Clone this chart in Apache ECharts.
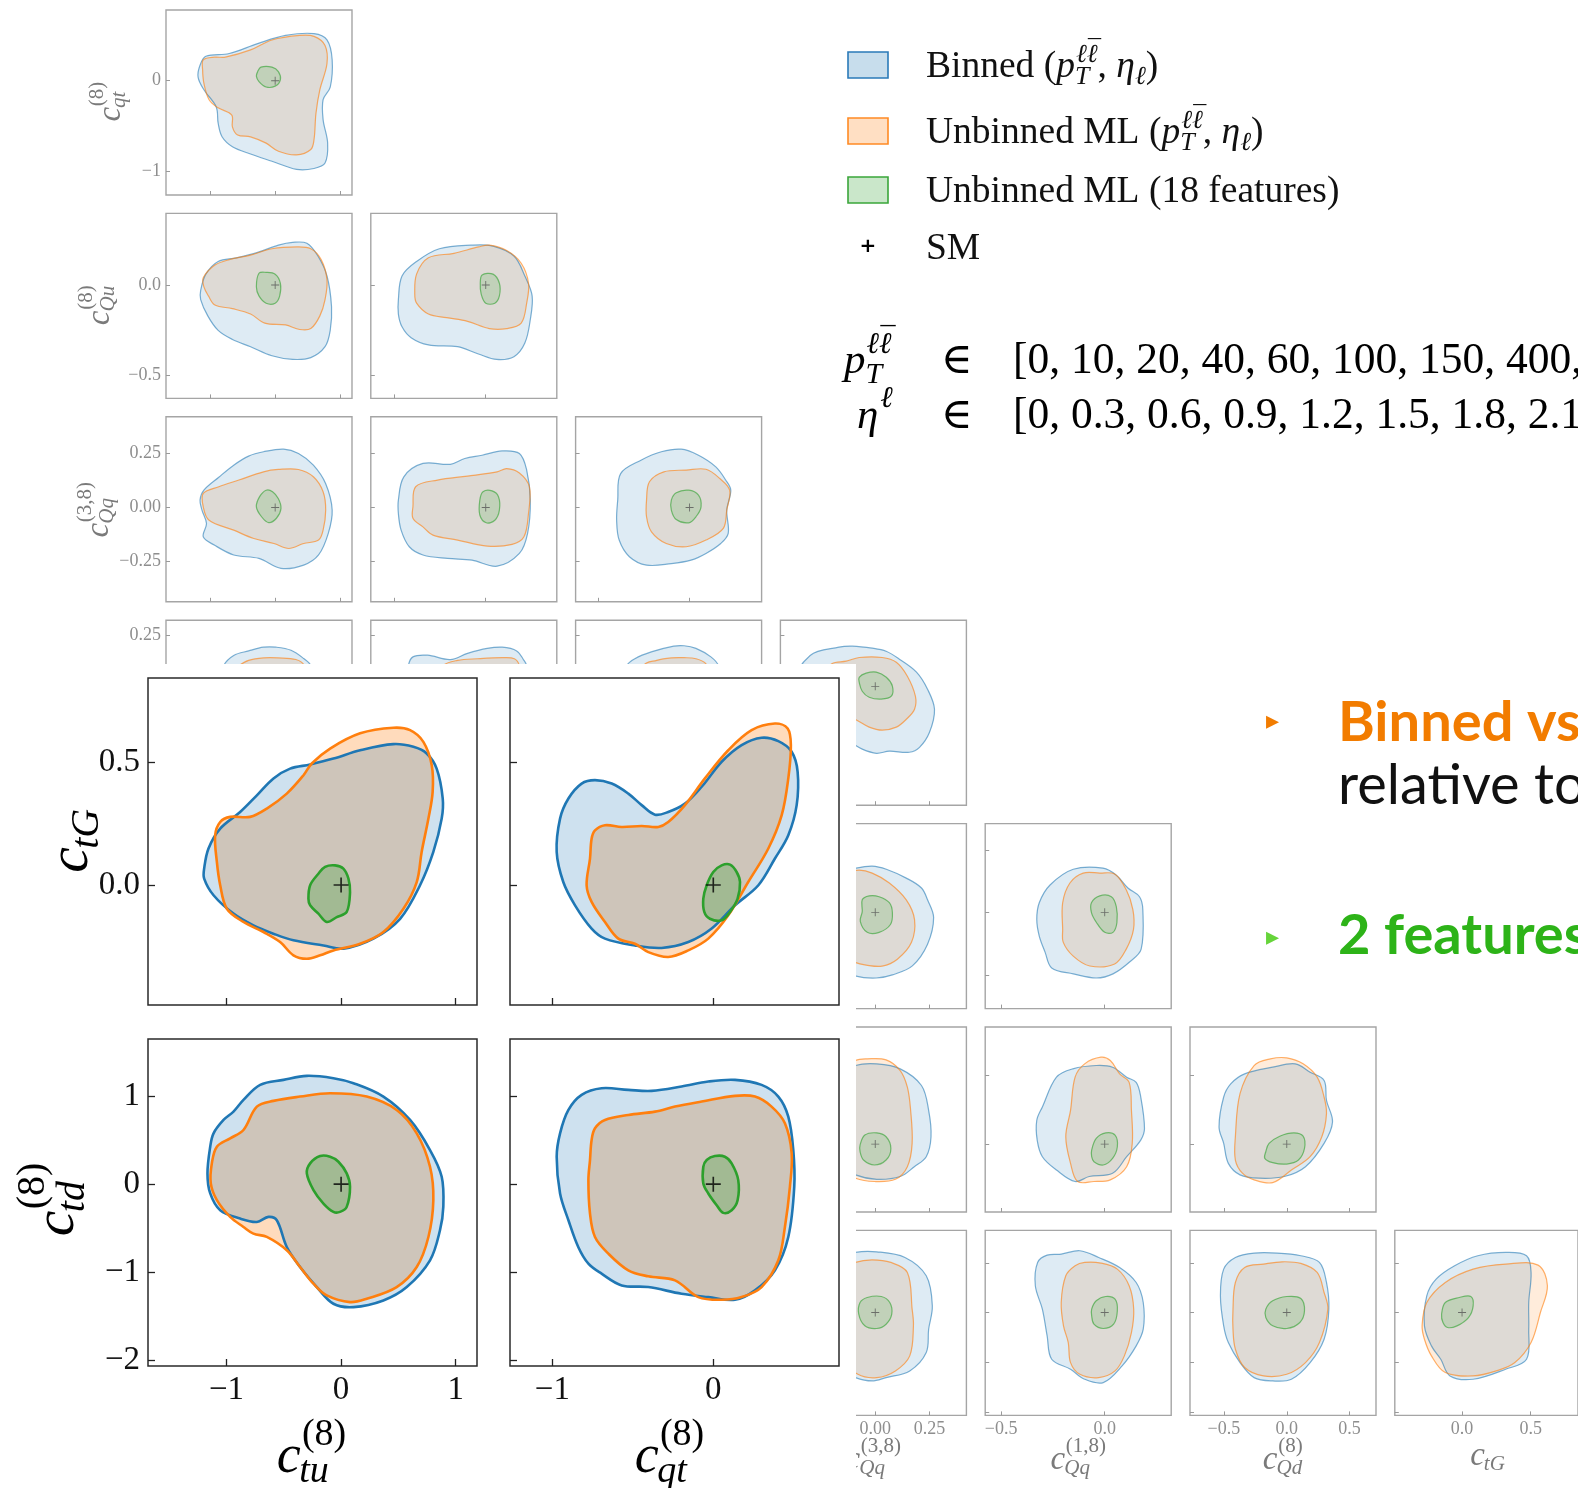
<!DOCTYPE html>
<html><head><meta charset="utf-8">
<script src="https://cdn.jsdelivr.net/npm/echarts@6/dist/echarts.min.js"></script>
<style>html,body{margin:0;padding:0;background:#fff}#c{width:1578px;height:1488px}</style>
</head><body><div id="c"></div>
<script>
// ---------------- tick values ----------------
const ticks_ctu = [-1, 0, 1];
const ticks_cqt = [-1, 0];
const ticks_cQu = [-0.5, 0];
const ticks_cQq38 = [-0.25, 0, 0.25];
const ticks_cQq18_x = [-0.5, 0];
const ticks_cQq18_y = [-0.5, -0.25, 0, 0.25];
const ticks_cQd = [-0.5, 0, 0.5];
const ticks_ctG = [0, 0.5];
const ticks_ctd = [-2, -1, 0, 1];
// ---------------- axis ranges ----------------
const range_ctu = [-1.685, 1.186];
const range_cqt = [-1.263, 0.781];
const range_cQu = [-0.625, 0.395];
const range_cQq38 = [-0.437, 0.42];
const range_cQq18 = [-0.577, 0.321];
const range_cQd = [-0.77, 0.71];
const range_ctG = [-0.49, 0.845];
const range_ctd = [-2.069, 1.651];
const sm_point = [0, 0];

// ---------------- contours: small corner panels ----------------
const r1c1_blue = [[-1.07,0.27],[-0.71,0.30],[-0.27,0.41],[0.16,0.50],[0.60,0.52],[0.80,0.45],[0.88,0.23],[0.85,-0.07],[0.74,-0.21],[0.74,-0.43],[0.81,-0.69],[0.77,-0.91],[0.60,-0.97],[0.33,-0.98],[-0.05,-0.89],[-0.38,-0.81],[-0.66,-0.73],[-0.82,-0.62],[-0.88,-0.47],[-0.91,-0.29],[-1.10,-0.10],[-1.19,0.04],[-1.16,0.17]];
const r1c1_orange = [[-1.11,0.23],[-0.93,0.26],[-0.77,0.26],[-0.38,0.34],[-0.05,0.45],[0.38,0.50],[0.60,0.49],[0.77,0.39],[0.80,0.19],[0.69,-0.10],[0.63,-0.36],[0.60,-0.65],[0.55,-0.76],[0.33,-0.82],[0.05,-0.78],[-0.14,-0.69],[-0.38,-0.62],[-0.58,-0.60],[-0.66,-0.51],[-0.67,-0.38],[-0.88,-0.30],[-1.02,-0.21],[-1.10,-0.03],[-1.12,0.12]];
const r1c1_green = [[-0.27,0.10],[-0.22,0.15],[-0.05,0.15],[0.05,0.10],[0.08,0.01],[0,-0.06],[-0.14,-0.07],[-0.25,-0.01],[-0.29,0.05]];

const r2c1_blue = [[-1.15,-0.03],[-1.07,0.06],[-0.88,0.13],[-0.60,0.15],[-0.27,0.18],[0.05,0.22],[0.27,0.235],[0.49,0.23],[0.66,0.16],[0.80,0.05],[0.87,-0.12],[0.85,-0.25],[0.77,-0.34],[0.55,-0.40],[0.27,-0.41],[-0.05,-0.39],[-0.38,-0.34],[-0.66,-0.30],[-0.88,-0.25],[-1.04,-0.17],[-1.15,-0.08]];
const r2c1_orange = [[-1.11,0.04],[-0.93,0.11],[-0.71,0.14],[-0.38,0.165],[-0.05,0.20],[0.33,0.21],[0.55,0.20],[0.71,0.14],[0.80,0.03],[0.77,-0.08],[0.69,-0.17],[0.55,-0.24],[0.38,-0.245],[0.16,-0.22],[-0.16,-0.21],[-0.38,-0.16],[-0.66,-0.13],[-0.93,-0.11],[-1.03,-0.06],[-1.10,-0.01]];
const r2c1_green = [[-0.25,0.065],[-0.14,0.07],[0,0.06],[0.08,0.01],[0.07,-0.06],[0,-0.10],[-0.14,-0.10],[-0.25,-0.06],[-0.29,-0.01]];

const r2c2_blue = [[-0.96,-0.08],[-0.92,0.05],[-0.76,0.13],[-0.51,0.20],[-0.16,0.22],[0.08,0.215],[0.31,0.16],[0.43,0.05],[0.51,-0.06],[0.49,-0.19],[0.43,-0.32],[0.31,-0.395],[0.12,-0.41],[-0.08,-0.38],[-0.31,-0.34],[-0.63,-0.33],[-0.82,-0.29],[-0.92,-0.23],[-0.96,-0.16]];
const r2c2_orange = [[-0.78,-0.05],[-0.76,0.06],[-0.63,0.15],[-0.35,0.175],[-0.08,0.21],[0.04,0.22],[0.23,0.19],[0.39,0.12],[0.47,0.01],[0.45,-0.10],[0.39,-0.21],[0.23,-0.24],[0.04,-0.24],[-0.20,-0.20],[-0.43,-0.18],[-0.63,-0.16],[-0.76,-0.10]];
const r2c2_green = [[-0.04,0.055],[0.08,0.06],[0.15,0.01],[0.15,-0.06],[0.10,-0.10],[0,-0.10],[-0.05,-0.05],[-0.06,0.01]];

const r3c1_blue = [[-1.13,-0.012],[-1.16,0.034],[-1.10,0.08],[-0.87,0.14],[-0.64,0.196],[-0.41,0.238],[-0.18,0.258],[0.13,0.27],[0.36,0.25],[0.59,0.196],[0.78,0.11],[0.88,-0.012],[0.82,-0.12],[0.67,-0.22],[0.44,-0.267],[0.09,-0.282],[-0.25,-0.236],[-0.64,-0.22],[-0.94,-0.174],[-1.11,-0.136],[-1.06,-0.074]];
const r3c1_orange = [[-1.11,0.003],[-1.11,0.065],[-0.87,0.096],[-0.56,0.127],[-0.18,0.165],[0.05,0.176],[0.36,0.176],[0.59,0.142],[0.74,0.073],[0.78,-0.012],[0.74,-0.105],[0.67,-0.151],[0.44,-0.167],[0.21,-0.19],[-0.02,-0.167],[-0.33,-0.144],[-0.64,-0.105],[-1.02,-0.059]];
const r3c1_green = [[-0.29,0.003],[-0.24,0.05],[-0.14,0.08],[-0.04,0.073],[0.05,0.04],[0.09,-0.005],[0.02,-0.05],[-0.10,-0.07],[-0.21,-0.043]];

const r3c2_blue = [[-0.96,0.034],[-0.90,0.142],[-0.69,0.204],[-0.39,0.20],[-0.23,0.227],[-0.04,0.242],[0.18,0.262],[0.37,0.25],[0.45,0.173],[0.49,0.034],[0.46,-0.12],[0.37,-0.213],[0.125,-0.272],[-0.15,-0.244],[-0.42,-0.236],[-0.69,-0.22],[-0.84,-0.182],[-0.93,-0.105],[-0.96,-0.028]];
const r3c2_orange = [[-0.80,0.003],[-0.77,0.096],[-0.53,0.127],[-0.20,0.145],[0.125,0.165],[0.23,0.18],[0.37,0.16],[0.48,0.096],[0.47,-0.028],[0.42,-0.136],[0.29,-0.171],[0.016,-0.179],[-0.31,-0.151],[-0.58,-0.128],[-0.69,-0.09],[-0.80,-0.05]];
const r3c2_green = [[-0.065,0.034],[-0.03,0.073],[0.07,0.077],[0.14,0.05],[0.15,-0.012],[0.10,-0.059],[0.005,-0.071],[-0.065,-0.035]];

const r3c3_blue = [[-0.394,0.034],[-0.378,0.157],[-0.264,0.22],[-0.155,0.258],[-0.046,0.27],[0.049,0.242],[0.144,0.188],[0.198,0.127],[0.226,0.08],[0.204,-0.012],[0.212,-0.12],[0.171,-0.167],[0.09,-0.213],[0.008,-0.244],[-0.1,-0.26],[-0.236,-0.267],[-0.33,-0.228],[-0.386,-0.151],[-0.40,-0.059]];
const r3c3_orange = [[-0.236,0.034],[-0.22,0.119],[-0.141,0.165],[-0.019,0.173],[0.09,0.177],[0.166,0.134],[0.22,0.08],[0.204,-0.012],[0.185,-0.097],[0.09,-0.151],[-0.019,-0.182],[-0.128,-0.167],[-0.209,-0.113],[-0.236,-0.043]];
const r3c3_green = [[-0.1,0.034],[-0.073,0.068],[-0.005,0.08],[0.049,0.057],[0.063,0.003],[0.035,-0.043],[-0.005,-0.071],[-0.073,-0.056],[-0.1,-0.012]];

const r4c1_blue = [[-0.8,0.10],[-0.64,0.15],[-0.41,0.172],[-0.18,0.19],[0.015,0.19],[0.245,0.175],[0.44,0.135],[0.55,0.10],[0.7,-0.1],[0.75,-0.3],[0.5,-0.45],[0,-0.5],[-0.6,-0.45],[-0.95,-0.2],[-0.92,0.0]];
const r4c1_orange = [[-0.56,0.10],[-0.41,0.126],[-0.18,0.138],[0.05,0.138],[0.32,0.13],[0.45,0.10],[0.6,-0.1],[0.6,-0.3],[0.2,-0.4],[-0.5,-0.35],[-0.85,-0.1],[-0.75,0.05]];
const r4c2_blue = [[-0.85,0.10],[-0.80,0.143],[-0.64,0.151],[-0.39,0.13],[-0.20,0.16],[0.016,0.184],[0.18,0.19],[0.34,0.172],[0.42,0.126],[0.45,0.10],[0.48,-0.1],[0.4,-0.35],[0,-0.45],[-0.6,-0.4],[-0.9,-0.1]];
const r4c2_orange = [[-0.47,0.10],[-0.31,0.126],[-0.09,0.134],[0.18,0.139],[0.315,0.134],[0.37,0.10],[0.45,-0.1],[0.3,-0.3],[-0.2,-0.35],[-0.6,-0.2],[-0.6,0.0]];
const r4c3_blue = [[-0.345,0.10],[-0.30,0.134],[-0.21,0.167],[-0.087,0.195],[-0.03,0.197],[0.035,0.184],[0.117,0.143],[0.158,0.10],[0.2,-0.1],[0.15,-0.35],[-0.1,-0.45],[-0.35,-0.3],[-0.4,-0.05]];
const r4c3_orange = [[-0.25,0.10],[-0.18,0.126],[-0.1,0.138],[-0.03,0.139],[0.035,0.134],[0.09,0.109],[0.15,0.0],[0.12,-0.25],[-0.1,-0.3],[-0.25,-0.15]];
const r4c4_blue = [[-0.167,0.19],[-0.106,0.195],[-0.014,0.185],[0.05,0.17],[0.111,0.132],[0.19,0.069],[0.241,-0.014],[0.273,-0.111],[0.25,-0.223],[0.204,-0.296],[0.157,-0.32],[0.065,-0.315],[0.005,-0.325],[-0.06,-0.305],[-0.12,-0.27],[-0.3,-0.2],[-0.38,0.0],[-0.3,0.15]];
const r4c4_orange = [[-0.134,0.122],[-0.074,0.14],[0.032,0.14],[0.097,0.117],[0.148,0.049],[0.185,-0.048],[0.181,-0.111],[0.143,-0.16],[0.097,-0.198],[0.032,-0.213],[-0.028,-0.198],[-0.093,-0.16],[-0.22,-0.1],[-0.25,0.05],[-0.2,0.11]];
const r4c4_green = [[-0.074,0.044],[-0.042,0.064],[0.005,0.069],[0.051,0.044],[0.079,0.001],[0.074,-0.048],[0.028,-0.062],[-0.028,-0.053],[-0.06,-0.024],[-0.074,0.02]];

const r5c4_blue = [[-0.167,0.314],[-0.088,0.354],[-0.014,0.37],[0.051,0.345],[0.143,0.274],[0.213,0.195],[0.241,0.10],[0.269,-0.042],[0.241,-0.255],[0.171,-0.428],[0.079,-0.50],[0.005,-0.525],[-0.088,-0.51],[-0.25,-0.4],[-0.35,-0.1],[-0.3,0.2]];
const r5c4_orange = [[-0.134,0.314],[-0.074,0.338],[-0.014,0.314],[0.065,0.235],[0.143,0.10],[0.181,-0.058],[0.167,-0.24],[0.102,-0.375],[0.032,-0.43],[-0.042,-0.422],[-0.093,-0.40],[-0.2,-0.3],[-0.25,0.0],[-0.2,0.25]];
const r5c4_green = [[-0.06,0.10],[-0.028,0.132],[0.018,0.125],[0.065,0.077],[0.079,-0.002],[0.07,-0.097],[0.018,-0.16],[-0.037,-0.16],[-0.069,-0.073],[-0.06,0.006]];
const r5c5_blue = [[-0.328,-0.058],[-0.316,0.077],[-0.264,0.219],[-0.152,0.345],[-0.008,0.354],[0.056,0.298],[0.112,0.195],[0.168,0.125],[0.184,0.021],[0.176,-0.294],[0.12,-0.397],[0.04,-0.492],[-0.04,-0.525],[-0.152,-0.492],[-0.256,-0.445],[-0.288,-0.318],[-0.316,-0.19]];
const r5c5_orange = [[-0.203,-0.136],[-0.203,0.077],[-0.168,0.235],[-0.104,0.314],[-0.024,0.314],[0.048,0.306],[0.104,0.18],[0.136,0.021],[0.139,-0.136],[0.104,-0.294],[0.048,-0.413],[-0.072,-0.429],[-0.152,-0.35],[-0.2,-0.24]];
const r5c5_green = [[-0.064,0.077],[-0.024,0.132],[0.032,0.125],[0.056,0.045],[0.059,-0.081],[0.04,-0.16],[0,-0.16],[-0.04,-0.081],[-0.064,-0.002]];

const r6c4_blue = [[-0.091,0.567],[0.007,0.579],[0.115,0.543],[0.213,0.423],[0.246,0.244],[0.257,0.053],[0.235,-0.091],[0.18,-0.163],[0.115,-0.234],[0.007,-0.254],[-0.091,-0.222],[-0.25,-0.1],[-0.3,0.2],[-0.25,0.45]];
const r6c4_orange = [[-0.091,0.603],[-0.037,0.615],[0.05,0.608],[0.115,0.531],[0.148,0.411],[0.163,0.244],[0.17,0.005],[0.148,-0.163],[0.093,-0.254],[-0.004,-0.27],[-0.091,-0.246],[-0.2,-0.15],[-0.22,0.2],[-0.18,0.5]];
const r6c4_green = [[-0.07,-0.007],[-0.048,0.065],[0.007,0.081],[0.05,0.053],[0.072,-0.031],[0.05,-0.115],[-0.004,-0.151],[-0.054,-0.115],[-0.07,-0.055]];
const r6c5_blue = [[-0.328,0.172],[-0.301,0.268],[-0.233,0.483],[-0.154,0.543],[-0.041,0.567],[0.038,0.555],[0.106,0.483],[0.152,0.445],[0.174,0.34],[0.192,0.112],[0.174,0.029],[0.106,-0.091],[0.038,-0.211],[-0.075,-0.234],[-0.143,-0.27],[-0.233,-0.187],[-0.301,-0.091],[-0.326,0.029]];
const r6c5_orange = [[-0.188,0.053],[-0.165,0.244],[-0.143,0.483],[-0.097,0.579],[-0.018,0.627],[0.027,0.603],[0.072,0.507],[0.118,0.445],[0.129,0.244],[0.133,0.005],[0.106,-0.163],[0.027,-0.258],[-0.052,-0.27],[-0.131,-0.27],[-0.165,-0.139]];
const r6c5_green = [[-0.063,-0.043],[-0.041,0.041],[0.005,0.081],[0.05,0.065],[0.061,-0.019],[0.038,-0.103],[-0.007,-0.151],[-0.052,-0.127],[-0.063,-0.091]];
const r6c6_blue = [[-0.539,0.124],[-0.502,0.34],[-0.446,0.435],[-0.335,0.507],[-0.112,0.555],[0.067,0.579],[0.186,0.519],[0.297,0.459],[0.316,0.316],[0.364,0.16],[0.297,0.005],[0.149,-0.163],[-0.019,-0.234],[-0.223,-0.246],[-0.372,-0.222],[-0.465,-0.139],[-0.502,0.005]];
const r6c6_orange = [[-0.409,0.053],[-0.372,0.364],[-0.26,0.567],[-0.13,0.615],[0,0.622],[0.13,0.579],[0.242,0.483],[0.297,0.34],[0.316,0.22],[0.279,0.053],[0.186,-0.091],[0.037,-0.187],[-0.112,-0.278],[-0.26,-0.258],[-0.353,-0.21],[-0.409,-0.115]];
const r6c6_green = [[-0.167,-0.055],[-0.141,0.005],[-0.056,0.057],[0.056,0.081],[0.13,0.057],[0.141,-0.031],[0.093,-0.115],[0,-0.144],[-0.112,-0.134],[-0.175,-0.103]];

const r7c4_blue = [[-0.091,1.208],[0.007,1.221],[0.137,1.107],[0.235,0.738],[0.263,0.134],[0.246,-0.336],[0.235,-0.805],[0.159,-1.174],[0.05,-1.309],[-0.015,-1.376],[-0.091,-1.309],[-0.25,-1.0],[-0.3,0],[-0.25,1.0]];
const r7c4_orange = [[-0.091,1.007],[-0.015,1.06],[0.072,1.007],[0.148,0.805],[0.17,0.067],[0.176,-0.268],[0.159,-0.872],[0.093,-1.174],[0.007,-1.309],[-0.08,-1.242],[-0.2,-0.8],[-0.23,0.1],[-0.18,0.8]];
const r7c4_green = [[-0.07,0.201],[-0.037,0.302],[0.028,0.322],[0.067,0.201],[0.076,-0.034],[0.05,-0.235],[0.007,-0.322],[-0.048,-0.268],[-0.076,-0.034]];
const r7c5_blue = [[-0.335,0.537],[-0.324,1.007],[-0.278,1.154],[-0.21,1.174],[-0.12,1.242],[-0.029,1.107],[0.072,0.906],[0.152,0.604],[0.186,0.201],[0.186,-0.336],[0.152,-0.671],[0.084,-1.074],[-0.007,-1.409],[-0.097,-1.342],[-0.165,-1.141],[-0.256,-0.94],[-0.278,-0.47],[-0.301,0.067]];
const r7c5_orange = [[-0.21,0.201],[-0.188,0.738],[-0.143,0.94],[-0.097,1.007],[-0.018,0.993],[0.061,0.872],[0.118,0.537],[0.14,0.067],[0.129,-0.403],[0.095,-0.872],[0.05,-1.174],[-0.029,-1.309],[-0.12,-1.242],[-0.165,-1.007],[-0.176,-0.604],[-0.199,-0.268]];
const r7c5_green = [[-0.063,0.067],[-0.041,0.235],[0.005,0.322],[0.05,0.268],[0.061,0.034],[0.043,-0.235],[-0.007,-0.322],[-0.052,-0.235],[-0.063,-0.067]];
const r7c6_blue = [[-0.528,0.336],[-0.502,0.872],[-0.409,1.107],[-0.26,1.195],[-0.074,1.195],[0.112,1.141],[0.26,1.007],[0.316,0.604],[0.335,0.067],[0.297,-0.537],[0.186,-1.007],[0.037,-1.342],[-0.112,-1.376],[-0.26,-1.309],[-0.372,-1.007],[-0.465,-0.604],[-0.502,-0.268]];
const r7c6_orange = [[-0.428,0.067],[-0.409,0.604],[-0.335,0.906],[-0.186,0.973],[-0.037,1.02],[0.112,0.987],[0.242,0.805],[0.297,0.403],[0.327,0.067],[0.26,-0.604],[0.149,-1.007],[0,-1.242],[-0.186,-1.275],[-0.335,-1.107],[-0.409,-0.738],[-0.428,-0.336]];
const r7c6_green = [[-0.167,0.067],[-0.112,0.235],[0,0.322],[0.112,0.282],[0.141,0.034],[0.104,-0.201],[0,-0.322],[-0.112,-0.268],[-0.167,-0.101]];
const r7c7_blue = [[-0.274,-0.268],[-0.257,0.336],[-0.189,0.671],[-0.054,0.94],[0.115,1.141],[0.318,1.208],[0.47,1.141],[0.503,0.805],[0.486,0.201],[0.486,-0.336],[0.47,-0.94],[0.318,-1.141],[0.081,-1.342],[-0.088,-1.275],[-0.155,-0.94],[-0.223,-0.671]];
const r7c7_orange = [[-0.291,-0.268],[-0.257,0.201],[-0.122,0.604],[0.081,0.872],[0.318,0.973],[0.554,0.953],[0.622,0.537],[0.571,0],[0.503,-0.604],[0.385,-1.007],[0.25,-1.174],[0.081,-1.275],[-0.122,-1.208],[-0.223,-0.872],[-0.274,-0.537]];
const r7c7_green = [[-0.149,-0.034],[-0.122,0.201],[-0.02,0.302],[0.064,0.322],[0.081,0.134],[0.047,-0.101],[-0.037,-0.268],[-0.105,-0.302],[-0.139,-0.201]];

// ---------------- contours: enlarged inset panels ----------------
const tG_tu_blue = [[-1.195,0.067],[-1.157,0.149],[-1.055,0.23],[-0.881,0.298],[-0.735,0.366],[-0.59,0.435],[-0.445,0.475],[-0.27,0.492],[-0.067,0.516],[0.166,0.55],[0.456,0.575],[0.631,0.564],[0.747,0.537],[0.834,0.475],[0.887,0.353],[0.878,0.271],[0.805,0.135],[0.689,-0.001],[0.515,-0.138],[0.282,-0.219],[0.02,-0.26],[-0.154,-0.247],[-0.416,-0.226],[-0.59,-0.199],[-0.765,-0.165],[-0.939,-0.117],[-1.113,-0.042],[-1.195,0.026]];
const tG_tu_orange = [[-1.099,0.203],[-1.055,0.257],[-0.968,0.278],[-0.794,0.278],[-0.648,0.312],[-0.474,0.373],[-0.328,0.448],[-0.256,0.496],[-0.096,0.557],[0.166,0.619],[0.456,0.642],[0.602,0.632],[0.718,0.584],[0.791,0.489],[0.799,0.38],[0.762,0.271],[0.703,0.135],[0.66,0.012],[0.544,-0.097],[0.369,-0.192],[0.166,-0.24],[-0.067,-0.267],[-0.183,-0.287],[-0.299,-0.301],[-0.416,-0.287],[-0.532,-0.233],[-0.677,-0.192],[-0.852,-0.151],[-0.997,-0.097],[-1.055,-0.001],[-1.084,0.094]];
const tG_tu_green = [[-0.285,-0.056],[-0.27,-0.001],[-0.198,0.046],[-0.14,0.074],[-0.052,0.08],[0.02,0.067],[0.064,0.026],[0.078,-0.029],[0.049,-0.11],[-0.038,-0.131],[-0.125,-0.151],[-0.198,-0.117],[-0.27,-0.083]];

const tG_qt_blue = [[-0.973,0.135],[-0.952,0.271],[-0.9,0.353],[-0.818,0.414],[-0.735,0.428],[-0.631,0.414],[-0.528,0.373],[-0.445,0.326],[-0.362,0.287],[-0.28,0.298],[-0.176,0.332],[-0.072,0.401],[0.052,0.503],[0.176,0.571],[0.3,0.601],[0.404,0.587],[0.487,0.544],[0.524,0.462],[0.518,0.326],[0.466,0.203],[0.383,0.108],[0.28,-0.001],[0.135,-0.083],[-0.01,-0.178],[-0.155,-0.233],[-0.321,-0.257],[-0.487,-0.247],[-0.673,-0.219],[-0.756,-0.178],[-0.859,-0.083],[-0.932,0.012]];
const tG_qt_orange = [[-0.756,0.189],[-0.735,0.223],[-0.673,0.244],[-0.569,0.237],[-0.445,0.241],[-0.342,0.237],[-0.28,0.257],[-0.176,0.326],[-0.052,0.435],[0.093,0.55],[0.238,0.632],[0.383,0.659],[0.462,0.639],[0.482,0.571],[0.466,0.435],[0.425,0.285],[0.342,0.149],[0.217,0.012],[0.093,-0.124],[-0.031,-0.219],[-0.155,-0.267],[-0.28,-0.294],[-0.404,-0.274],[-0.487,-0.24],[-0.59,-0.219],[-0.673,-0.151],[-0.756,-0.069],[-0.787,-0.001],[-0.766,0.108]];
const tG_qt_green = [[-0.062,-0.056],[-0.041,-0.001],[0,0.053],[0.052,0.08],[0.104,0.083],[0.145,0.053],[0.166,0.012],[0.151,-0.056],[0.104,-0.11],[0.052,-0.144],[-0.021,-0.138],[-0.056,-0.11]];

const td_tu_blue = [[-1.142,0.426],[-1.113,0.578],[-1.026,0.73],[-0.939,0.825],[-0.852,0.958],[-0.706,1.129],[-0.503,1.186],[-0.299,1.232],[-0.067,1.205],[0.108,1.148],[0.369,0.996],[0.602,0.73],[0.776,0.388],[0.878,0.084],[0.892,-0.259],[0.863,-0.525],[0.776,-0.867],[0.573,-1.171],[0.369,-1.323],[0.108,-1.399],[-0.067,-1.361],[-0.212,-1.171],[-0.358,-0.943],[-0.474,-0.715],[-0.561,-0.411],[-0.634,-0.373],[-0.735,-0.43],[-0.881,-0.392],[-1.055,-0.297],[-1.142,-0.106],[-1.166,0.122]];
const td_tu_orange = [[-1.128,0.236],[-1.084,0.426],[-0.968,0.521],[-0.852,0.616],[-0.735,0.882],[-0.59,0.947],[-0.358,0.996],[-0.096,1.034],[0.224,0.996],[0.485,0.844],[0.66,0.578],[0.776,0.198],[0.805,-0.183],[0.762,-0.601],[0.66,-0.943],[0.485,-1.171],[0.224,-1.304],[0.078,-1.342],[-0.125,-1.266],[-0.241,-1.133],[-0.358,-0.943],[-0.474,-0.753],[-0.648,-0.601],[-0.765,-0.563],[-0.852,-0.487],[-0.968,-0.373],[-1.084,-0.183],[-1.137,0.008]];
const td_tu_green = [[-0.299,0.122],[-0.27,0.236],[-0.183,0.319],[-0.096,0.312],[-0.023,0.255],[0.049,0.122],[0.078,-0.03],[0.049,-0.259],[-0.009,-0.316],[-0.067,-0.316],[-0.154,-0.221],[-0.241,-0.068]];

const td_qt_blue = [[-0.973,0.312],[-0.952,0.578],[-0.9,0.844],[-0.818,1.015],[-0.694,1.091],[-0.528,1.072],[-0.383,1.061],[-0.197,1.11],[-0.031,1.167],[0.135,1.186],[0.3,1.129],[0.404,0.996],[0.466,0.768],[0.497,0.388],[0.503,-0.03],[0.466,-0.601],[0.383,-0.981],[0.259,-1.209],[0.135,-1.316],[-0.031,-1.285],[-0.197,-1.247],[-0.404,-1.171],[-0.569,-1.152],[-0.694,-1.019],[-0.776,-0.905],[-0.839,-0.715],[-0.9,-0.411],[-0.952,-0.106]];
const td_qt_orange = [[-0.756,0.502],[-0.735,0.635],[-0.673,0.73],[-0.528,0.787],[-0.362,0.825],[-0.238,0.882],[-0.072,0.939],[0.135,1.004],[0.259,0.996],[0.362,0.882],[0.445,0.692],[0.487,0.35],[0.476,-0.03],[0.445,-0.487],[0.404,-0.867],[0.3,-1.171],[0.176,-1.285],[0.052,-1.316],[-0.093,-1.285],[-0.238,-1.095],[-0.404,-1.049],[-0.528,-0.981],[-0.652,-0.791],[-0.735,-0.601],[-0.766,-0.335],[-0.776,0.046],[-0.766,0.274]];
const td_qt_green = [[-0.062,0.198],[-0.041,0.274],[0.01,0.319],[0.072,0.312],[0.114,0.236],[0.155,0.046],[0.151,-0.183],[0.114,-0.297],[0.062,-0.327],[0.021,-0.24],[-0.031,-0.106],[-0.062,0.008]];

// ---------------- setup ----------------
const SERIF = '"Liberation Serif", "DejaVu Serif", serif';
const VARS = {
  ctu:{range:range_ctu, ticks:ticks_ctu, dec:0},
  cqt:{range:range_cqt, ticks:ticks_cqt, dec:0},
  cQu:{range:range_cQu, ticks:ticks_cQu, dec:1},
  cQq38:{range:range_cQq38, ticks:ticks_cQq38, dec:2},
  cQq18x:{range:range_cQq18, ticks:ticks_cQq18_x, dec:1},
  cQq18y:{range:range_cQq18, ticks:ticks_cQq18_y, dec:2},
  cQd:{range:range_cQd, ticks:ticks_cQd, dec:1},
  ctG:{range:range_ctG, ticks:ticks_ctG, dec:1},
  ctd:{range:range_ctd, ticks:ticks_ctd, dec:0}
};
const colVars = ['ctu','cqt','cQu','cQq38','cQq18x','cQd','ctG'];
const rowVars = ['cqt','cQu','cQq38','cQq18y','cQd','ctG','ctd'];
const NAMES = {blue:'Binned (pT, eta)', orange:'Unbinned ML (pT, eta)', green:'Unbinned ML (18 features)'};
const STY = {
  small:{
    orange:{fill:'rgba(255,127,14,0.15)', line:'rgba(255,127,14,0.62)', lw:1.2, zf:1, zl:12},
    blue:{fill:'rgba(31,119,180,0.15)', line:'rgba(31,119,180,0.58)', lw:1.2, zf:2, zl:11},
    green:{fill:'rgba(44,160,44,0.16)', line:'rgba(44,160,44,0.6)', lw:1.2, zf:3, zl:13}
  },
  big:{
    orange:{fill:'rgba(255,127,14,0.28)', line:'#ff7f0e', lw:2.6, zf:1, zl:12},
    blue:{fill:'rgba(31,119,180,0.22)', line:'#1f77b4', lw:2.6, zf:2, zl:11},
    green:{fill:'rgba(44,160,44,0.27)', line:'#2ca02c', lw:2.6, zf:3, zl:13}
  }
};
const PLUS = 'path://M-1,-0.11H1V0.11H-1Z M-0.11,-1H0.11V1H-0.11Z';

const smallPanels = [
  {r:0,c:0,blue:r1c1_blue,orange:r1c1_orange,green:r1c1_green},
  {r:1,c:0,blue:r2c1_blue,orange:r2c1_orange,green:r2c1_green},
  {r:1,c:1,blue:r2c2_blue,orange:r2c2_orange,green:r2c2_green},
  {r:2,c:0,blue:r3c1_blue,orange:r3c1_orange,green:r3c1_green},
  {r:2,c:1,blue:r3c2_blue,orange:r3c2_orange,green:r3c2_green},
  {r:2,c:2,blue:r3c3_blue,orange:r3c3_orange,green:r3c3_green},
  {r:3,c:0,blue:r4c1_blue,orange:r4c1_orange},
  {r:3,c:1,blue:r4c2_blue,orange:r4c2_orange},
  {r:3,c:2,blue:r4c3_blue,orange:r4c3_orange},
  {r:3,c:3,blue:r4c4_blue,orange:r4c4_orange,green:r4c4_green},
  {r:4,c:3,blue:r5c4_blue,orange:r5c4_orange,green:r5c4_green},
  {r:4,c:4,blue:r5c5_blue,orange:r5c5_orange,green:r5c5_green},
  {r:5,c:3,blue:r6c4_blue,orange:r6c4_orange,green:r6c4_green},
  {r:5,c:4,blue:r6c5_blue,orange:r6c5_orange,green:r6c5_green},
  {r:5,c:5,blue:r6c6_blue,orange:r6c6_orange,green:r6c6_green},
  {r:6,c:3,blue:r7c4_blue,orange:r7c4_orange,green:r7c4_green},
  {r:6,c:4,blue:r7c5_blue,orange:r7c5_orange,green:r7c5_green},
  {r:6,c:5,blue:r7c6_blue,orange:r7c6_orange,green:r7c6_green},
  {r:6,c:6,blue:r7c7_blue,orange:r7c7_orange,green:r7c7_green}
];
const insetPanels = [
  {x:'ctu',y:'ctG',left:148,top:678,lx:false,ly:true,blue:tG_tu_blue,orange:tG_tu_orange,green:tG_tu_green},
  {x:'cqt',y:'ctG',left:510,top:678,lx:false,ly:false,blue:tG_qt_blue,orange:tG_qt_orange,green:tG_qt_green},
  {x:'ctu',y:'ctd',left:148,top:1039,lx:true,ly:true,blue:td_tu_blue,orange:td_tu_orange,green:td_tu_green},
  {x:'cqt',y:'ctd',left:510,top:1039,lx:true,ly:false,blue:td_qt_blue,orange:td_qt_orange,green:td_qt_green}
];

function fmt(dec){ return function(v){ const a = Math.abs(v) < 1e-9 ? 0 : v; return a.toFixed(dec).replace('-', '\u2212'); }; }

const grids = [], xAxes = [], yAxes = [], series = [];
function axisOpt(gi, v, showLabels, big){
  return {
    type:'value', gridIndex:gi, min:v.range[0], max:v.range[1], z: big?7:1,
    axisLine:{show:false, onZero:false},
    splitLine:{show:false},
    axisTick:{show:true, inside:true, length: big?7:4, customValues:v.ticks,
      lineStyle:{color: big?'#222':'#9a9a9a', width: big?1.3:1}},
    axisLabel:{show:showLabels, customValues:v.ticks, formatter:fmt(v.dec),
      color: big?'#111':'#8e8e8e', fontFamily:SERIF, fontSize: big?33:18, margin: big?8:5}
  };
}
function contourSeries(pts, gi, kind, big){
  const st = STY[big?'big':'small'][kind];
  return {
    type:'custom', name:NAMES[kind], coordinateSystem:'cartesian2d',
    xAxisIndex:gi, yAxisIndex:gi, z: big?8:2, silent:true, animation:false,
    data:pts, encode:{x:0, y:1},
    renderItem:function(params, api){
      if (params.dataIndex !== 0) return null;
      const poly = pts.map(function(p){ return api.coord(p); });
      return {type:'group', children:[
        {type:'polygon', z2:st.zf, shape:{points:poly, smooth:0.35}, style:{fill:st.fill, stroke:null}},
        {type:'polygon', z2:st.zl, shape:{points:poly, smooth:0.35}, style:{fill:null, stroke:st.line, lineWidth:st.lw}}
      ]};
    }
  };
}
function addPanel(p, geom, big, xv, yv, lx, ly){
  const gi = grids.length;
  grids.push({left:geom.left, top:geom.top, width:geom.w, height:geom.h, show:true,
    borderColor: big?'#2a2a2a':'#a5a5a5', borderWidth: big?1.5:1.4, backgroundColor:'transparent', z: big?6:1});
  xAxes.push(axisOpt(gi, VARS[xv], lx, big));
  yAxes.push(axisOpt(gi, VARS[yv], ly, big));
  ['orange','blue','green'].forEach(function(k){ if (p[k]) series.push(contourSeries(p[k], gi, k, big)); });
  series.push({type:'scatter', name:'SM', xAxisIndex:gi, yAxisIndex:gi, data:[sm_point], symbol:PLUS,
    symbolSize: big?15:8, itemStyle:{color: big?'#000':'#555'}, z: big?9:3, silent:true, animation:false});
}
smallPanels.forEach(function(p){
  addPanel(p, {left:166 + p.c*204.8, top:10 + p.r*203.4, w:186, h:185}, false,
    colVars[p.c], rowVars[p.r], p.r === 6, p.c === 0);
});
insetPanels.forEach(function(p){
  addPanel(p, {left:p.left, top:p.top, w:329, h:327}, true, p.x, p.y, p.lx, p.ly);
});

// ---------------- text helpers ----------------
const mctx = document.createElement('canvas').getContext('2d');
function meas(t, f){ mctx.font = f; return mctx.measureText(t).width; }
function txt(x, y, t, f, color, z, align){
  return {type:'text', x:x, y:y, z:z, silent:true,
    style:{text:t, font:f, fill:color, align:align||'left', verticalAlign:'middle'}};
}
function axisTitle(cx, cy, rot, base, sub, sup, S, s, color, z){
  const fB = 'italic ' + S + 'px ' + SERIF, fSub = 'italic ' + s + 'px ' + SERIF, fSup = s + 'px ' + SERIF;
  const wB = meas(base, fB), wSub = sub ? meas(sub, fSub) : 0, wSup = sup ? meas(sup, fSup) : 0;
  const x0 = -(wB + Math.max(wSub, wSup)) / 2;
  const ch = [txt(x0, 0, base, fB, color, z)];
  if (sub) ch.push(txt(x0 + wB - 0.03*S, 0.26*S, sub, fSub, color, z));
  if (sup) ch.push(txt(x0 + wB + 0.02*S, -0.42*S, sup, fSup, color, z));
  return {type:'group', x:cx, y:cy, rotation:rot, z:z, children:ch};
}
function pieceFont(q){ return (q.it?'italic ':'') + (q.b?'bold ':'') + q.s + 'px ' + (q.fam || SERIF); }
function mathLine(x0, base, pieces, color, z){
  const out = []; let cx = x0;
  pieces.forEach(function(p){
    if (p.x !== undefined) cx = p.x;
    const items = p.stack || [p];
    let adv = 0;
    items.forEach(function(q){
      const f = pieceFont(q);
      out.push(txt(cx + (q.dx||0), base + (q.dy||0) - 0.27*q.s, q.t, f, q.color||color, z));
      if (!q.noAdv) adv = Math.max(adv, meas(q.t, f) + (q.dx||0));
    });
    cx += adv;
  });
  return out;
}
// p_T^{ll-bar}: sup "ℓℓ" with a macron over the second ℓ, sub "T"
function ptStack(s, supDy, subDy){
  const wl = meas('\u2113', 'italic ' + s + 'px ' + SERIF);
  return {stack:[
    {t:'\u2113\u2113', s:s, it:1, dy:supDy, dx:1},
    {t:'\u00af', s:s, dy:supDy - 0.2*s, dx:1 + wl + 0.05*s, noAdv:true},
    {t:'T', s:s, it:1, dy:subDy}
  ]};
}

const els = [];
// small-panel axis titles (under the inset cover)
const HP = Math.PI/2;
const GT = '#7a7a7a';
els.push(axisTitle(111, 102, HP, 'c', 'qt', '(8)', 33, 21, GT, 2));
els.push(axisTitle(100, 305, HP, 'c', 'Qu', '(8)', 33, 21, GT, 2));
els.push(axisTitle(99, 510, HP, 'c', 'Qq', '(3,8)', 33, 21, GT, 2));
els.push(axisTitle(873, 1460, 0, 'c', 'Qq', '(3,8)', 33, 21, GT, 2));
els.push(axisTitle(1078, 1460, 0, 'c', 'Qq', '(1,8)', 33, 21, GT, 2));
els.push(axisTitle(1283, 1460, 0, 'c', 'Qd', '(8)', 33, 21, GT, 2));
els.push(axisTitle(1488, 1456, 0, 'c', 'tG', null, 33, 21, GT, 2));
// inset cover
els.push({type:'rect', z:5, silent:true, shape:{x:0, y:664, width:856, height:830}, style:{fill:'#ffffff'}});
// inset axis titles
els.push(axisTitle(72, 840, HP, 'c', 'tG', null, 58, 40, '#000', 10));
els.push(axisTitle(58, 1200, HP, 'c', 'td', '(8)', 58, 40, '#000', 10));
els.push(axisTitle(311, 1458, 0, 'c', 'tu', '(8)', 54, 38, '#000', 10));
els.push(axisTitle(669, 1458, 0, 'c', 'qt', '(8)', 54, 38, '#000', 10));

// legend
const LG = [
  {y:52, fill:'rgba(31,119,180,0.25)', stroke:'#2a7ab8'},
  {y:118, fill:'rgba(255,127,14,0.25)', stroke:'#ff8a24'},
  {y:177, fill:'rgba(44,160,44,0.25)', stroke:'#3aa63a'}
];
LG.forEach(function(b){
  els.push({type:'rect', z:10, silent:true, shape:{x:848, y:b.y, width:40, height:26},
    style:{fill:b.fill, stroke:b.stroke, lineWidth:1.6}});
});
els.push(txt(868, 247, '+', 'bold 20px "DejaVu Sans"', '#000', 10, 'center'));
const LS = 37.5, ls = 26;
function ptEta(){
  return [{t:'p', s:LS, it:1}, ptStack(ls, -15, 7),
    {t:', ', s:LS}, {t:'\u03b7', s:LS, it:1}, {t:'\u2113', s:ls, it:1, dy:7}, {t:')', s:LS}];
}
function pushAll(a){ a.forEach(function(e){ els.push(e); }); }
pushAll(mathLine(926, 77, [{t:'Binned (', s:LS}].concat(ptEta()), '#111', 10));
pushAll(mathLine(926, 143, [{t:'Unbinned ML (', s:LS}].concat(ptEta()), '#111', 10));
pushAll(mathLine(926, 202, [{t:'Unbinned ML (18 features)', s:LS}], '#111', 10));
pushAll(mathLine(926, 259, [{t:'SM', s:LS}], '#111', 10));

// binning equations
pushAll(mathLine(844, 373, [{t:'p', s:43, it:1}, ptStack(30, -20, 10),
  {x:941, t:'\u2208', s:43, fam:'"DejaVu Serif"'}, {x:1013, t:'[0, 10, 20, 40, 60, 100, 150, 400,', s:43.5}], '#000', 10));
pushAll(mathLine(857, 428, [{t:'\u03b7', s:43, it:1}, {t:'\u2113', s:30, it:1, dy:-21, dx:2},
  {x:941, t:'\u2208', s:43, fam:'"DejaVu Serif"'}, {x:1013, t:'[0, 0.3, 0.6, 0.9, 1.2, 1.5, 1.8, 2.1', s:43.5}], '#000', 10));

// bullets
const BS = 56;
els.push(txt(1266, 722, '\u25b8', '26px "DejaVu Sans"', '#f27c00', 10));
els.push(txt(1338, 742 - 0.34*BS, 'Binned vs', 'bold ' + BS + 'px Lato', '#f27c00', 10));
els.push(txt(1338, 805 - 0.34*BS, 'relative to', BS + 'px Lato', '#111', 10));
els.push(txt(1266, 938, '\u25b8', '26px "DejaVu Sans"', '#66d43a', 10));
els.push(txt(1338, 955 - 0.34*BS, '2 features', 'bold ' + BS + 'px Lato', '#2db318', 10));

const chart = echarts.init(document.getElementById('c'), null, {renderer:'canvas'});
chart.setOption({
  animation:false,
  backgroundColor:'#ffffff',
  grid:grids, xAxis:xAxes, yAxis:yAxes, series:series,
  graphic:{elements:els}
});
</script></body></html>
